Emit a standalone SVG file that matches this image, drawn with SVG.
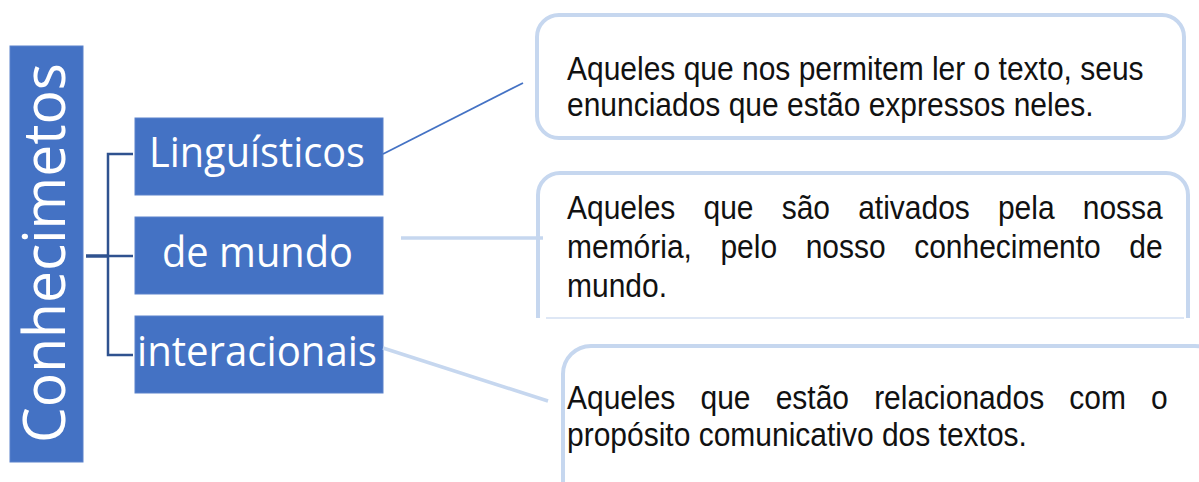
<svg xmlns="http://www.w3.org/2000/svg" width="1199" height="482" viewBox="0 0 1199 482">
<style>
.box{fill:#4472C4;stroke:#5B82CB;stroke-width:1}
.lbl{font-family:"Open Sans","Noto Sans",sans-serif;fill:#FFFFFF;text-anchor:middle}
.call{fill:#FFFFFF;stroke:#C6D7EF;stroke-width:4}
.txt{font-family:"Liberation Sans",Arial,sans-serif;font-size:33px;fill:#111111}
.br{fill:none;stroke:#2F528F;stroke-width:2.5}
.lt{fill:none;stroke:#C6D7EF;stroke-width:3.5}
</style>
<defs>
<clipPath id="c2"><rect x="520" y="160" width="679" height="158"/></clipPath>
</defs>
<rect width="1199" height="482" fill="#FFFFFF"/>

<g id="root">
<rect class="box" x="10" y="46" width="73" height="416"/>
<text class="lbl" font-size="58" transform="translate(65,253) rotate(-90)" textLength="380" lengthAdjust="spacingAndGlyphs">Conhecimetos</text>
</g>

<g id="linguisticos">
<rect class="box" x="135" y="118" width="248" height="77"/>
<text class="lbl" font-size="42" x="257" y="167" textLength="216" lengthAdjust="spacingAndGlyphs">Linguísticos</text>
</g>

<g id="de-mundo">
<rect class="box" x="135" y="217" width="248" height="77"/>
<text class="lbl" font-size="42" x="257.5" y="267" textLength="191" lengthAdjust="spacingAndGlyphs">de mundo</text>
</g>

<g id="interacionais">
<rect class="box" x="135" y="316" width="248" height="77"/>
<text class="lbl" font-size="42" x="257" y="366" textLength="240" lengthAdjust="spacingAndGlyphs">interacionais</text>
</g>

<g id="callout-1">
<rect class="call" x="537" y="15" width="647" height="123" rx="22"/>
<g transform="translate(567,0) scale(0.909,1)">
<text class="txt" x="0" y="80">Aqueles que nos permitem ler o texto, seus</text>
<text class="txt" x="0" y="116">enunciados que estão expressos neles.</text>
</g>
</g>

<g id="callout-2">
<rect class="call" x="538" y="173" width="650" height="175" rx="22" clip-path="url(#c2)"/>
<line x1="546" y1="318" x2="1184" y2="318" stroke="#D3DFF2" stroke-width="1.5"/>
<g transform="translate(567,0) scale(0.909,1)">
<text class="txt" x="0" y="219" word-spacing="21.8">Aqueles que são ativados pela nossa</text>
<text class="txt" x="0" y="258" word-spacing="22.2">memória, pelo nosso conhecimento de</text>
<text class="txt" x="0" y="297">mundo.</text>
</g>
</g>

<g id="callout-3">
<rect class="call" x="563" y="346" width="660" height="200" rx="28"/>
<g transform="translate(567,0) scale(0.909,1)">
<text class="txt" x="0" y="409" word-spacing="18.5">Aqueles que estão relacionados com o</text>
<text class="txt" x="0" y="446">propósito comunicativo dos textos.</text>
</g>
</g>

<g id="connectors">
<path class="br" d="M133 154 H108 V355 H133"/>
<line x1="108" y1="256" x2="133" y2="256" class="br"/>
<line x1="86" y1="256" x2="108" y2="256" stroke="#2F528F" stroke-width="3.5"/>
<line x1="383" y1="154" x2="523" y2="83" stroke="#4472C4" stroke-width="1.8"/>
<line x1="401" y1="238" x2="543" y2="238" class="lt"/>
<line x1="383" y1="348" x2="548" y2="401" class="lt"/>
</g>
</svg>
